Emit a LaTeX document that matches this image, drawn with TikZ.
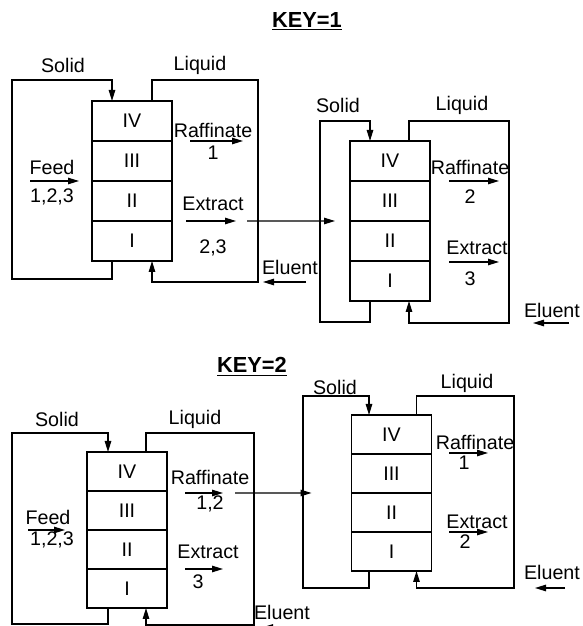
\documentclass[tikz,border=0pt]{standalone}
\usepackage{fontspec}
\setmainfont{Liberation Sans}
\usetikzlibrary{arrows.meta,positioning}
\tikzset{
  cell/.style={draw, line width=0.7pt, minimum width=1.6cm, minimum height=#1, inner sep=0pt, outer sep=0pt},
  cell/.default=0.8cm,
  pipe/.style={draw, line width=0.7pt},
  pipearrow/.style={pipe, -{Triangle[length=2.2mm, width=1.3mm]}},
  flow/.style={line width=0.7pt, -{Triangle[length=2.2mm, width=1.3mm]}},
  lbl/.style={inner sep=0pt},
  keytitle/.style={inner sep=0pt, font=\fontsize{12.4}{14}\selectfont\bfseries}
}

\begin{document}
\begin{tikzpicture}[font=\fontsize{11.2}{13.4}\selectfont]
  \useasboundingbox (0,0) rectangle (11.66,12.52);

  \node[keytitle] (key1) at (6.14,12.09) {\underline{KEY=1}};

  \node[cell] (u1iv) at (2.64,10.10) {IV};
  \node[cell, below=0pt of u1iv] (u1iii) {III};
  \node[cell, below=0pt of u1iii] (u1ii) {II};
  \node[cell, below=0pt of u1ii] (u1i) {I};
  \node[lbl] (u1solid) at (1.26,11.22) {Solid};
  \node[lbl] (u1liquid) at (4.00,11.22) {Liquid};
  \draw[pipearrow] ([xshift=-4mm]u1i.south) -- ++(0,-0.36) -| (0.24,10.92) -| ([xshift=-4mm]u1iv.north);
  \draw[pipearrow] ([xshift=4mm]u1iv.north) -- ++(0,0.42) -| (5.16,6.88) -| ([xshift=4mm]u1i.south);

  \coordinate (u1fa) at (0.60,8.90);
  \draw[flow] (u1fa) -- ++(0.98,0);
  \node[lbl] (u1feed) at (1.04,9.18) {Feed};
  \node[lbl] (u1feedn) at (1.04,8.58) {1,2,3};
  \coordinate (u1ra) at (3.80,9.70);
  \draw[flow] (u1ra) -- ++(1.06,0);
  \node[lbl] (u1raf) at (4.26,9.92) {Raffinate};
  \node[lbl] (u1rafn) at (4.26,9.46) {1};
  \coordinate (u1ea) at (3.72,8.10);
  \draw[flow] (u1ea) -- ++(1.00,0);
  \node[lbl] (u1ext) at (4.26,8.44) {Extract};
  \node[lbl] (u1extn) at (4.26,7.56) {2,3};
  \coordinate (u1el) at (6.12,6.88);
  \draw[flow] (u1el) -- ++(-0.86,0);
  \node[lbl] (u1elu) at (5.80,7.18) {Eluent};

  \node[cell] (u2iv) at (7.80,9.30) {IV};
  \node[cell, below=0pt of u2iv] (u2iii) {III};
  \node[cell, below=0pt of u2iii] (u2ii) {II};
  \node[cell, below=0pt of u2ii] (u2i) {I};
  \node[lbl] (u2solid) at (6.76,10.42) {Solid};
  \node[lbl] (u2liquid) at (9.24,10.42) {Liquid};
  \draw[pipearrow] ([xshift=-4mm]u2i.south) -- ++(0,-0.42) -| (6.40,10.10) -| ([xshift=-4mm]u2iv.north);
  \draw[pipearrow] ([xshift=3.8mm]u2iv.north) -- ++(0,0.40) -| (10.18,6.06) -| ([xshift=3.8mm]u2i.south);

  \coordinate (u1out) at (4.94,8.10);
  \draw[flow] (u1out) -- ([xshift=-3mm]u2iii.south west);

  \coordinate (u2ra) at (8.98,8.90);
  \draw[flow] (u2ra) -- ++(1.00,0);
  \node[lbl] (u2raf) at (9.40,9.18) {Raffinate};
  \node[lbl] (u2rafn) at (9.40,8.58) {2};
  \coordinate (u2ea) at (8.98,7.28);
  \draw[flow] (u2ea) -- ++(1.00,0);
  \node[lbl] (u2ext) at (9.54,7.56) {Extract};
  \node[lbl] (u2extn) at (9.40,6.94) {3};
  \coordinate (u2el) at (11.38,6.06);
  \draw[flow] (u2el) -- ++(-0.72,0);
  \node[lbl] (u2elu) at (11.04,6.32) {Eluent};

  \node[keytitle] (key2) at (5.04,5.18) {\underline{KEY=2}};

  \node[cell=0.78cm] (u3iv) at (2.54,3.09) {IV};
  \node[cell=0.78cm, below=0pt of u3iv] (u3iii) {III};
  \node[cell=0.78cm, below=0pt of u3iii] (u3ii) {II};
  \node[cell=0.78cm, below=0pt of u3ii] (u3i) {I};
  \node[lbl] (u3solid) at (1.14,4.14) {Solid};
  \node[lbl] (u3liquid) at (3.90,4.14) {Liquid};
  \draw[pipearrow] ([xshift=-3.8mm]u3i.south) -- ++(0,-0.32) -| (0.24,3.86) -| ([xshift=-3.8mm]u3iv.north);
  \draw[pipearrow] ([xshift=3.8mm]u3iv.north) -- ++(0,0.38) -| (5.08,0.02) -| ([xshift=3.8mm]u3i.south);

  \coordinate (u3fa) at (0.56,1.92);
  \draw[flow] (u3fa) -- ++(0.74,0);
  \node[lbl] (u3feed) at (0.96,2.18) {Feed};
  \node[lbl] (u3feedn) at (1.04,1.72) {1,2,3};
  \coordinate (u3ra) at (3.70,2.66);
  \draw[flow] (u3ra) -- ++(0.76,0);
  \node[lbl] (u3raf) at (4.20,2.98) {Raffinate};
  \node[lbl] (u3rafn) at (4.20,2.44) {1,2};
  \coordinate (u3ea) at (3.70,1.14);
  \draw[flow] (u3ea) -- ++(0.76,0);
  \node[lbl] (u3ext) at (4.16,1.48) {Extract};
  \node[lbl] (u3extn) at (3.96,0.88) {3};
  \coordinate (u3el) at (6.00,-0.03);
  \draw[flow] (u3el) -- ++(-0.76,0);
  \node[lbl] (u3elu) at (5.64,0.28) {Eluent};

  \node[cell=0.78cm] (u4iv) at (7.83,3.83) {IV};
  \node[cell=0.78cm, below=0pt of u4iv] (u4iii) {III};
  \node[cell=0.78cm, below=0pt of u4iii] (u4ii) {II};
  \node[cell=0.78cm, below=0pt of u4ii] (u4i) {I};
  \node[lbl] (u4solid) at (6.70,4.78) {Solid};
  \node[lbl] (u4liquid) at (9.34,4.86) {Liquid};
  \draw[pipearrow] ([xshift=-4.5mm]u4i.south) -- ++(0,-0.34) -| (6.06,4.60) -| ([xshift=-4.5mm]u4iv.north);
  \draw[pipearrow] ([xshift=5mm]u4iv.north) -- ++(0,0.38) -| (10.28,0.76) -| ([xshift=5mm]u4i.south);

  \coordinate (u3out) at (4.70,2.66);
  \draw[flow] (u3out) -- ([xshift=-8mm]u4iii.south west);

  \coordinate (u4ra) at (8.98,3.46);
  \draw[flow] (u4ra) -- ++(0.78,0);
  \node[lbl] (u4raf) at (9.50,3.68) {Raffinate};
  \node[lbl] (u4rafn) at (9.28,3.26) {1};
  \coordinate (u4ea) at (8.98,1.88);
  \draw[flow] (u4ea) -- ++(0.78,0);
  \node[lbl] (u4ext) at (9.54,2.08) {Extract};
  \node[lbl] (u4extn) at (9.30,1.68) {2};
  \coordinate (u4el) at (11.30,0.76);
  \draw[flow] (u4el) -- ++(-0.60,0);
  \node[lbl] (u4elu) at (11.04,1.08) {Eluent};
\end{tikzpicture}
\end{document}
